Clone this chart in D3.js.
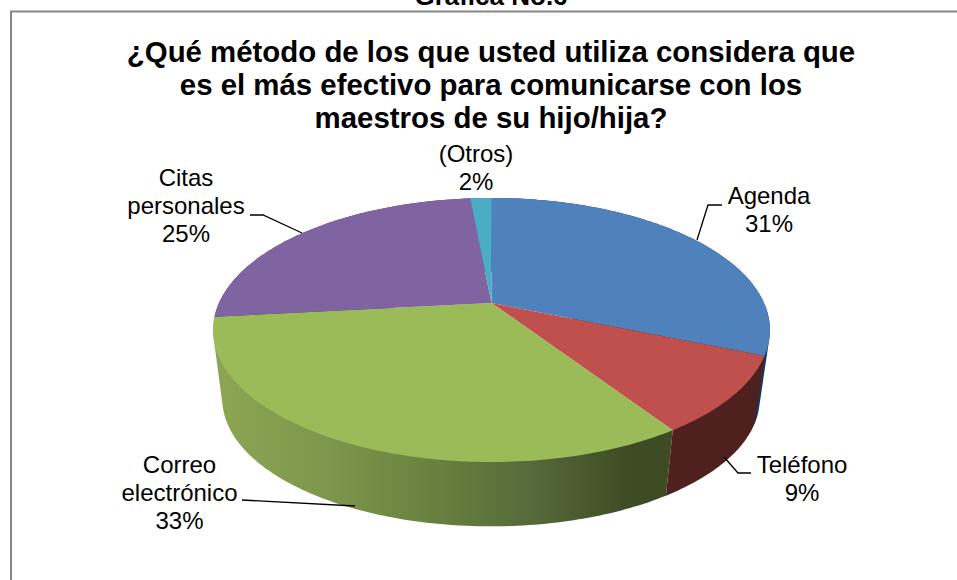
<!DOCTYPE html>
<html><head><meta charset="utf-8">
<script src="https://cdn.jsdelivr.net/npm/d3@7"></script>
<style>html,body{margin:0;padding:0;background:#fff}svg{display:block}text{font-family:"Liberation Sans",Arial,sans-serif;fill:#000}</style>
</head><body><svg id="c" width="957" height="580"></svg>
<script>
const categories = ["Agenda","Teléfono","Correo electrónico","Citas personales","(Otros)"];
const values = [31.3, 9.4, 32.6, 25.2, 1.5];
const percentLabels = ["31%","9%","33%","25%","2%"];
const topColors = ["#4f81bd","#c0504d","#9bbb59","#8064a2","#4bacc6"];
const wallColors = ["#17365d","#4e211f","#6b8440","#4a3a60","#2a6a7c"];
const titleLines = ["¿Qué método de los que usted utiliza considera que","es el más efectivo para comunicarse con los","maestros de su hijo/hija?"];
const labelLines = [["Agenda","31%"],["Teléfono","9%"],["Correo","electrónico","33%"],["Citas","personales","25%"],["(Otros)","2%"]];
const labelAnchors = [[769,204],[802,473],[179.5,473],[186,186],[476,162]];
const leaderPaths = [[[697,240],[708,205],[722,205]],[[724,457],[738,473],[751,473]],[[355,506],[242,500]],[[302,233],[263,215],[250,215]]];

const svg = d3.select("#c");

// perspective projection of the pie disc
const persp = 0.2045;
const topPlane = {cx:491.5, cy:303, R:272.5, S:126.5};
const botPlane = {cx:491, cy:373, R:263, S:122};
function project(plane,a){
  const u=Math.sin(a), v=-Math.cos(a), w=1-persp*v;
  return [plane.cx+plane.R*u/w, plane.cy+plane.S*v/w];
}
const arcs = d3.pie().sort(null).value(d=>d)(values);
const step = Math.PI/180;
const sample = (a0,a1)=>d3.range(0,Math.max(2,Math.ceil((a1-a0)/step))+1).map((i,_,r)=>a0+(a1-a0)*i/(r.length-1));
const line = d3.line();

// frame
svg.append("path").attr("d",line([[11,580],[11,11.5],[957,11.5]])).attr("fill","none").attr("stroke","#868686").attr("stroke-width",2);
// caption, cut by the top edge as in the reference
svg.append("text").attr("x",491).attr("y",5).attr("text-anchor","middle").attr("font-size",26).attr("font-weight","bold").text("Gráfica No.6");

// side walls
const defs = svg.append("defs");
const grad = defs.append("linearGradient").attr("id","gw").attr("gradientUnits","userSpaceOnUse").attr("x1",215).attr("x2",670).attr("y1",0).attr("y2",0);
[["0%","#8ca655"],["25%","#7c974b"],["45%","#6b8440"],["70%","#55693a"],["90%","#3f4d24"],["100%","#3d4a22"]].forEach(s=>grad.append("stop").attr("offset",s[0]).attr("stop-color",s[1]));
[0,1,3,4,2].forEach(i=>{
  const d=arcs[i], t=sample(d.startAngle,d.endAngle);
  const pts=t.map(a=>project(topPlane,a)).concat(t.slice().reverse().map(a=>project(botPlane,a)));
  const outline=d3.polygonHull(pts);
  svg.append("path").attr("d",line(outline)+"Z").attr("fill",i===2?"url(#gw)":wallColors[i]);
});
// top faces
arcs.forEach((d,i)=>{
  const pts=[[topPlane.cx,topPlane.cy]].concat(sample(d.startAngle,d.endAngle).map(a=>project(topPlane,a)));
  svg.append("path").attr("d",line(pts)+"Z").attr("fill",topColors[i]);
});
// leaders
leaderPaths.forEach(p=>svg.append("path").attr("d",line(p)).attr("fill","none").attr("stroke","#000").attr("stroke-width",1.3));
// labels
labelLines.forEach((ls,i)=>{
  const t=svg.append("text").attr("text-anchor","middle").attr("font-size",24);
  ls.forEach((s,j)=>t.append("tspan").attr("x",labelAnchors[i][0]).attr("y",labelAnchors[i][1]+j*28).text(s));
});
// title
const title=svg.append("text").attr("text-anchor","middle").attr("font-size",29.4).attr("font-weight","bold");
titleLines.forEach((s,j)=>title.append("tspan").attr("x",491).attr("y",62+j*33).text(s));
</script></body></html>
